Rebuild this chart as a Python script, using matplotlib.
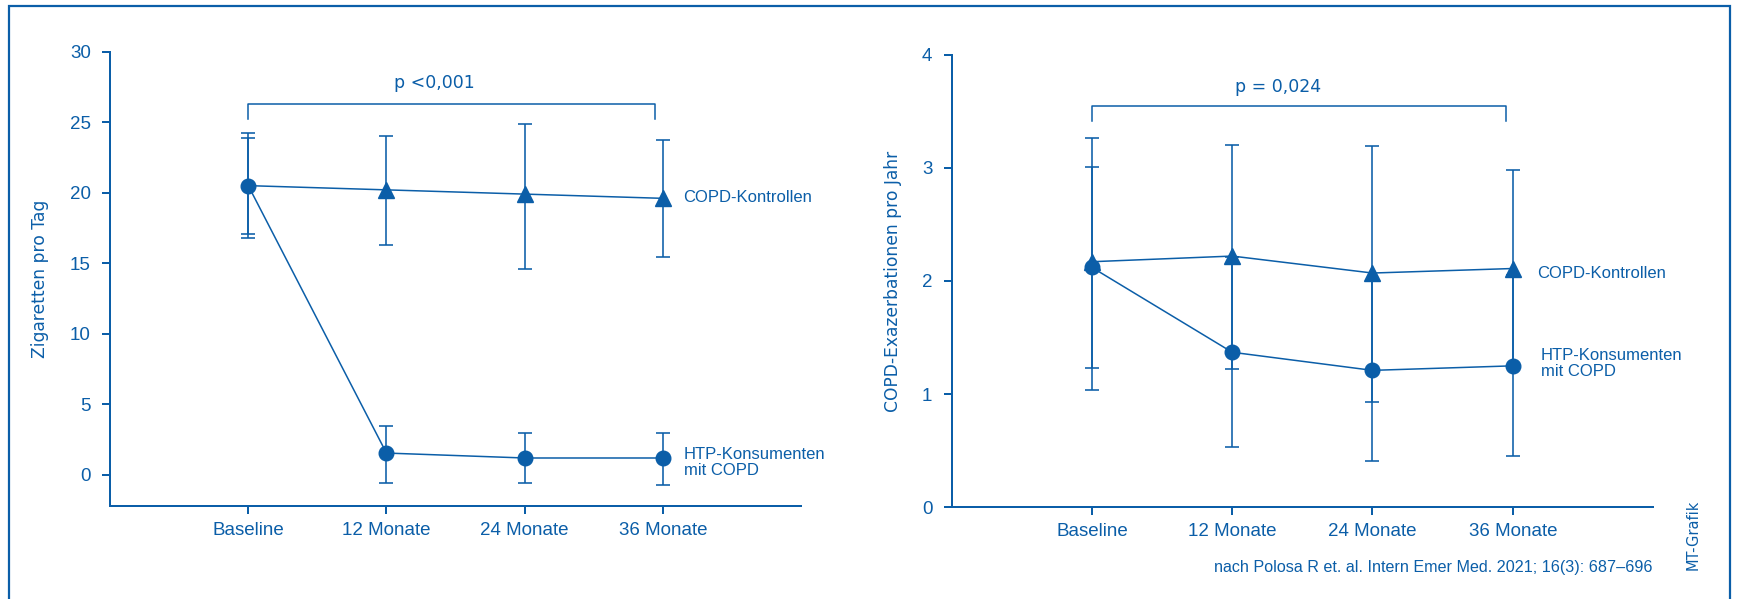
import matplotlib
matplotlib.use('Agg')
import matplotlib.pyplot as plt
from matplotlib.patches import Rectangle
import numpy as np

# Data
timepoints = ['Baseline', '12 Monate', '24 Monate', '36 Monate']

# Left panel: cigarettes per day
cig_ctrl_mean = [20.5, 20.2, 19.9, 19.6]
cig_ctrl_lo = [16.8, 16.3, 14.6, 15.45]
cig_ctrl_hi = [24.2, 24.05, 24.9, 23.75]
cig_htp_mean = [20.5, 1.55, 1.2, 1.2]
cig_htp_lo = [17.1, -0.55, -0.6, -0.7]
cig_htp_hi = [23.9, 3.45, 3.0, 3.0]

# Right panel: COPD exacerbations per year
exa_ctrl_mean = [2.17, 2.22, 2.07, 2.11]
exa_ctrl_lo = [1.04, 1.22, 0.93, 1.25]
exa_ctrl_hi = [3.26, 3.20, 3.19, 2.98]
exa_htp_mean = [2.12, 1.37, 1.21, 1.25]
exa_htp_lo = [1.23, 0.53, 0.41, 0.45]
exa_htp_hi = [3.01, 2.21, 2.01, 2.05]

blue = '#0b5ea8'
tick_font = 'Liberation Sans'
wide_font = 'DejaVu Sans'

fig = plt.figure(figsize=(17.39, 5.99), dpi=100)
ax1 = fig.add_axes([0.0633, 0.1553, 0.3973, 0.7586])
ax2 = fig.add_axes([0.5472, 0.1531, 0.4034, 0.7557])

x = np.arange(len(timepoints))


def draw_panel(ax, ctrl_mean, ctrl_lo, ctrl_hi, htp_mean, htp_lo, htp_hi, ctrl_markevery):
    ctrl_mean = np.array(ctrl_mean)
    htp_mean = np.array(htp_mean)
    ctrl_err = [ctrl_mean - np.array(ctrl_lo), np.array(ctrl_hi) - ctrl_mean]
    htp_err = [htp_mean - np.array(htp_lo), np.array(htp_hi) - htp_mean]
    ax.errorbar(x, ctrl_mean, yerr=ctrl_err, fmt='none', ecolor=blue,
                elinewidth=1.15, capsize=5.2, capthick=1.15, zorder=2)
    ax.errorbar(x, htp_mean, yerr=htp_err, fmt='none', ecolor=blue,
                elinewidth=1.15, capsize=5.2, capthick=1.15, zorder=2)
    ax.plot(x, ctrl_mean, color=blue, lw=1.1, marker='^', markersize=11.5,
            markevery=ctrl_markevery, zorder=3)
    ax.plot(x, htp_mean, color=blue, lw=1.1, marker='o', markersize=10.5, zorder=4)

    ax.set_xlim(-1, 4)
    ax.set_xticks(x)
    ax.set_xticklabels(timepoints)
    for s in ['top', 'right']:
        ax.spines[s].set_visible(False)
    for s in ['left', 'bottom']:
        ax.spines[s].set_color(blue)
        ax.spines[s].set_linewidth(1.44)
    ax.tick_params(axis='both', colors=blue, length=5.8, width=1.44, labelsize=13.5)
    ax.tick_params(axis='y', pad=8.0)
    ax.tick_params(axis='x', pad=5.5)
    for lab in ax.get_xticklabels() + ax.get_yticklabels():
        lab.set_fontfamily(tick_font)


draw_panel(ax1, cig_ctrl_mean, cig_ctrl_lo, cig_ctrl_hi,
           cig_htp_mean, cig_htp_lo, cig_htp_hi, [1, 2, 3])
ax1.set_ylim(-2.2, 30)
ax1.set_yticks([0, 5, 10, 15, 20, 25, 30])
ax1.plot([0, 0, 2.94, 2.94], [25.2, 26.3, 26.3, 25.2], color=blue, lw=1.1)
ax1.text(1.35, 27.75, 'p <0,001', color=blue, fontsize=12.5, family=wide_font,
         ha='center', va='center')
ax1.text(3.15, 19.67, 'COPD-Kontrollen', color=blue, fontsize=12, family=tick_font,
         ha='left', va='center')
ax1.text(3.15, 0.88, 'HTP-Konsumenten\nmit COPD', color=blue, fontsize=12,
         family=tick_font, ha='left', va='center', linespacing=1.1)
ax1.set_ylabel('Zigaretten pro Tag', color=blue, fontsize=12.3, family=wide_font)
ax1.yaxis.set_label_coords(-0.101, 0.5)
ax1.yaxis.label.set_va('center')

draw_panel(ax2, exa_ctrl_mean, exa_ctrl_lo, exa_ctrl_hi,
           exa_htp_mean, exa_htp_lo, exa_htp_hi, None)
ax2.set_ylim(0, 4)
ax2.set_yticks([0, 1, 2, 3, 4])
ax2.plot([0, 0, 2.95, 2.95], [3.41, 3.55, 3.55, 3.41], color=blue, lw=1.1)
ax2.text(1.33, 3.71, 'p = 0,024', color=blue, fontsize=12.5, family=wide_font,
         ha='center', va='center')
ax2.text(3.17, 2.07, 'COPD-Kontrollen', color=blue, fontsize=12, family=tick_font,
         ha='left', va='center')
ax2.text(3.2, 1.27, 'HTP-Konsumenten\nmit COPD', color=blue, fontsize=12,
         family=tick_font, ha='left', va='center', linespacing=1.1)
ax2.set_ylabel('COPD-Exazerbationen pro Jahr', color=blue, fontsize=12.3, family=wide_font)
ax2.yaxis.set_label_coords(-0.0834, 0.5)
ax2.yaxis.label.set_va('center')

# source note and credit
fig.text(0.9505, 0.053, 'nach Polosa R et. al. Intern Emer Med. 2021; 16(3): 687\u2013696',
         color=blue, fontsize=11.6, family=tick_font, ha='right', va='center')
fig.text(0.9735, 0.107, 'MT-Grafik', color=blue, fontsize=10.5, family=wide_font,
         rotation=90, ha='center', va='center')

# open blue frame around the figure
fig.patches.append(Rectangle((9 / 1739, -0.05), (1730 - 9) / 1739, 1.05 - 6 / 599,
                             transform=fig.transFigure, fill=False, edgecolor=blue,
                             linewidth=1.6, clip_on=False))

fig.savefig('out.png', dpi=100)
